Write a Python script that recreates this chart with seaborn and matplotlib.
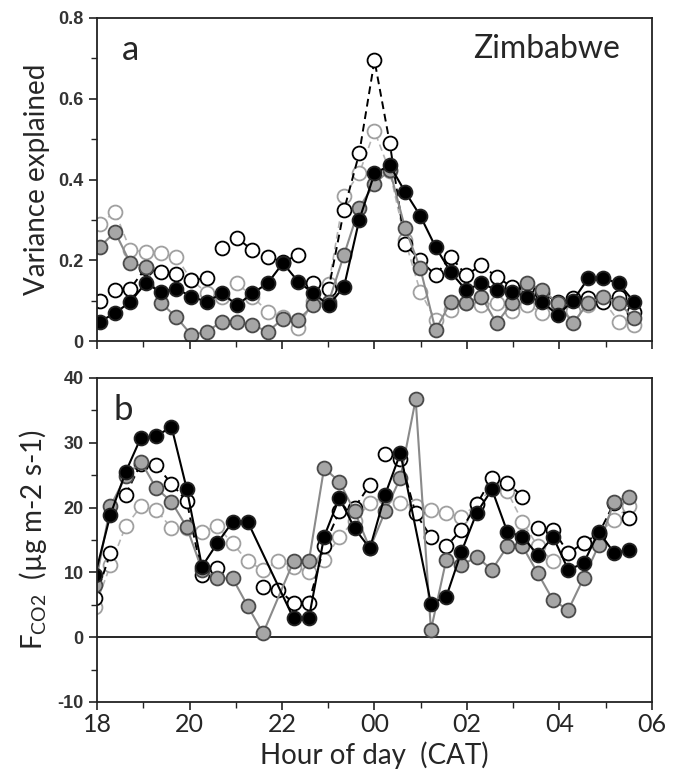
import numpy as np
import pandas as pd
import matplotlib
matplotlib.use("Agg")
import matplotlib.pyplot as plt
from matplotlib.ticker import MultipleLocator, FixedLocator
import seaborn as sns

sns.set_style("ticks")
plt.rcParams['font.family'] = ['Lato', 'DejaVu Sans']
plt.rcParams['mathtext.fontset'] = 'custom'
plt.rcParams['mathtext.rm'] = 'Lato'

# ---------------- data ----------------
hours_a = [18.06, 18.39, 18.72, 19.05, 19.38, 19.71, 20.04, 20.37, 20.70, 21.03, 21.36, 21.69,
           22.02, 22.35, 22.68, 23.01, 23.34, 23.67, 24.00, 24.33, 24.66, 24.99, 25.32, 25.65,
           25.98, 26.31, 26.64, 26.97, 27.30, 27.63, 27.96, 28.29, 28.62, 28.95, 29.28, 29.61]
hours_b = [17.96, 18.29, 18.62, 18.95, 19.28, 19.61, 19.94, 20.27, 20.60, 20.93, 21.26, 21.59,
           21.92, 22.25, 22.58, 22.91, 23.24, 23.57, 23.90, 24.23, 24.56, 24.89, 25.22, 25.55,
           25.88, 26.21, 26.54, 26.87, 27.20, 27.53, 27.86, 28.19, 28.52, 28.85, 29.18, 29.51]

nan = np.nan
# panel a: variance explained
var_black_filled = [0.048, 0.069, 0.097, 0.143, 0.122, 0.130, 0.110, 0.097, 0.118, 0.089, 0.118, 0.143,
                    0.193, 0.147, 0.118, 0.089, 0.134, 0.300, 0.415, 0.435, 0.370, 0.310, 0.233, 0.170,
                    0.126, 0.143, 0.126, 0.122, 0.110, 0.097, 0.064, 0.100, 0.155, 0.155, 0.143, 0.097]
var_gray_filled = [0.233, 0.270, 0.193, 0.184, 0.094, 0.060, 0.015, 0.023, 0.048, 0.048, 0.040, 0.023,
                   0.055, 0.052, 0.089, 0.097, 0.213, 0.330, 0.390, 0.423, 0.280, 0.180, 0.027, 0.097,
                   0.094, 0.110, 0.044, 0.094, 0.143, 0.126, 0.094, 0.044, 0.094, 0.110, 0.094, 0.057]
var_black_open = [0.100, 0.126, 0.130, 0.180, 0.170, 0.165, 0.151, 0.155, 0.230, 0.255, 0.225, 0.209,
                  0.196, 0.213, 0.143, 0.130, 0.324, 0.465, 0.695, 0.490, 0.240, 0.200, 0.163, 0.209,
                  0.163, 0.188, 0.159, 0.134, 0.134, 0.118, 0.097, 0.106, 0.106, 0.097, 0.110, 0.073]
var_gray_open = [0.290, 0.320, 0.225, 0.221, 0.217, 0.209, 0.151, 0.120, 0.110, 0.143, 0.110, 0.073,
                 0.060, 0.031, 0.100, 0.140, 0.360, 0.415, 0.520, 0.420, 0.250, 0.122, 0.052, 0.077,
                 0.094, 0.090, 0.094, 0.075, 0.090, 0.070, 0.090, 0.075, 0.090, 0.100, 0.048, 0.040]
breaks_black_open_a = [7, 13]

# panel b: CO2 flux
flux_black_filled = [9.6, 18.9, 25.5, 30.8, 31.0, 32.5, 22.9, 10.9, 14.5, 17.8, 17.8, nan,
                     nan, 2.9, 2.9, 15.5, 21.5, 16.8, 13.7, 22.0, 28.4, nan, 5.2, 6.2,
                     13.2, 19.2, 22.8, 16.3, 15.5, 12.7, 15.5, 10.4, 11.4, 16.3, 13.0, 13.5]
flux_gray_filled = [8.0, 20.2, 24.8, 27.1, 23.0, 20.9, 17.0, 10.4, 9.1, 9.1, 4.8, 0.6,
                    nan, 11.7, 11.7, 26.1, 24.0, 19.4, 13.7, 19.4, 24.6, 36.7, 1.1, 11.9,
                    11.1, 12.4, 10.4, 14.0, 14.0, 9.9, 5.7, 4.2, 9.1, 14.2, 20.9, 21.7]
flux_black_open = [6.0, 13.0, 22.0, 26.8, 26.5, 23.7, 21.0, 9.6, 10.7, nan, nan, 7.8,
                   7.3, 5.3, 5.3, 14.0, 19.4, 20.0, 23.5, 28.2, 27.5, 19.1, 15.5, 14.0,
                   16.6, 20.5, 24.6, 23.8, 21.7, 16.8, 16.6, 13.0, 14.5, 16.0, 20.7, 18.4]
flux_gray_open = [4.7, 11.1, 17.1, 20.2, 19.7, 16.8, 16.8, 16.3, 17.1, 14.5, 11.7, 10.4,
                  11.7, 10.9, 10.1, 11.9, 15.5, 18.0, 20.7, 21.7, 20.7, 20.2, 19.7, 19.2,
                  18.6, 20.5, 23.0, 22.5, 17.8, 14.0, 11.7, 13.0, 14.5, 16.1, 18.1, 20.2]
breaks_black_open_b = [1, 8, 18, 28]

tick_hours = [18, 20, 22, 24, 26, 28, 30]
tick_labels = ["18", "20", "22", "00", "02", "04", "06"]

# ---------------- styles ----------------
styles = {
    "gray_open": dict(color="#b4b4b4", ls=(0, (4, 2.5)), mfc="white", mec="#a0a0a0", lw=1.2),
    "black_open": dict(color="black", ls=(0, (4, 2.5)), mfc="white", mec="black", lw=1.4),
    "gray_filled": dict(color="#8a8a8a", ls="-", mfc="#a6a6a6", mec="#4a4a4a", lw=1.5),
    "black_filled": dict(color="black", ls="-", mfc="black", mec="#222222", lw=1.5),
}


def draw(ax, hours, vals, st, breaks=()):
    df = pd.DataFrame({"h": hours, "v": vals})
    seg = 0
    segs = []
    for i in range(len(df)):
        segs.append(seg)
        if i in breaks:
            seg += 1
    df["seg"] = segs
    df = df.dropna()
    for _, g in df.groupby("seg"):
        sns.lineplot(data=g, x="h", y="v", ax=ax, color=st["color"], linestyle=st["ls"],
                     linewidth=st["lw"], marker="o", markersize=10,
                     markerfacecolor=st["mfc"], markeredgecolor=st["mec"],
                     markeredgewidth=1.3, estimator=None, sort=False, legend=False)


fig = plt.figure(figsize=(6.73, 7.78), dpi=100)
L, R = 97 / 673, 652 / 673
ax_a = fig.add_axes([L, 1 - 341 / 778, R - L, (341 - 18) / 778])
ax_b = fig.add_axes([L, 1 - 702 / 778, R - L, (702 - 378) / 778])

draw(ax_a, hours_a, var_gray_open, styles["gray_open"])
draw(ax_a, hours_a, var_black_open, styles["black_open"], breaks_black_open_a)
draw(ax_a, hours_a, var_gray_filled, styles["gray_filled"])
draw(ax_a, hours_a, var_black_filled, styles["black_filled"])

ax_b.axhline(0, color="black", lw=1.2, zorder=1)
draw(ax_b, hours_b, flux_gray_open, styles["gray_open"])
draw(ax_b, hours_b, flux_black_open, styles["black_open"], breaks_black_open_b)
draw(ax_b, hours_b, flux_gray_filled, styles["gray_filled"])
draw(ax_b, hours_b, flux_black_filled, styles["black_filled"])

for ax in (ax_a, ax_b):
    ax.set_xlim(18, 30)
    ax.xaxis.set_major_locator(FixedLocator(tick_hours))
    ax.xaxis.set_minor_locator(MultipleLocator(1))
    ax.tick_params(axis="both", which="major", direction="out", length=6, width=1.2, color="#222222")
    ax.tick_params(axis="both", which="minor", direction="out", length=4, width=1.0, color="#222222")
    for sp in ax.spines.values():
        sp.set_linewidth(1.3)
        sp.set_color("#222222")
    ax.set_xlabel("")

ax_a.set_ylim(0, 0.8)
ax_a.yaxis.set_major_locator(FixedLocator([0, 0.2, 0.4, 0.6, 0.8]))
ax_a.yaxis.set_minor_locator(MultipleLocator(0.1))
ax_a.set_yticklabels(["0", "0.2", "0.4", "0.6", "0.8"], fontfamily="Liberation Sans",
                     fontweight="bold", fontsize=13, color="#333333")
ax_a.set_xticklabels([])
ax_a.set_ylabel("Variance explained", fontsize=20, labelpad=6)

ax_b.set_ylim(-10, 40)
ax_b.yaxis.set_major_locator(FixedLocator([-10, 0, 10, 20, 30, 40]))
ax_b.yaxis.set_minor_locator(MultipleLocator(5))
ax_b.set_yticklabels(["-10", "0", "10", "20", "30", "40"], fontfamily="Liberation Sans",
                     fontweight="bold", fontsize=13, color="#333333")
ax_b.tick_params(axis="x", which="major", pad=2)
ax_b.set_xticklabels(tick_labels, fontsize=18)
ax_b.set_xlabel("Hour of day  (CAT)", fontsize=20, labelpad=4)
ax_b.set_ylabel(r"F$_{\mathregular{CO2}}$  (µg m-2 s-1)", fontsize=20, labelpad=6)

ax_a.text(0.06, 0.90, "a", transform=ax_a.transAxes, fontsize=25, ha="center", va="center")
ax_a.text(0.81, 0.905, "Zimbabwe", transform=ax_a.transAxes, fontsize=23, ha="center", va="center")
ax_b.text(0.047, 0.90, "b", transform=ax_b.transAxes, fontsize=25, ha="center", va="center")

fig.savefig("out.png", dpi=100)
